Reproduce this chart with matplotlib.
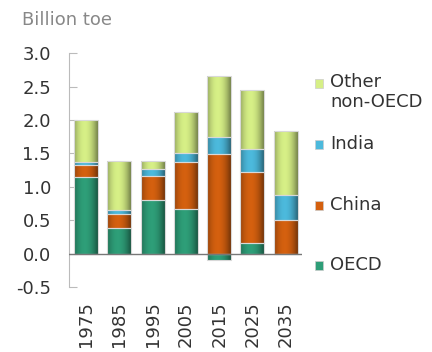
import numpy as np
import matplotlib
matplotlib.use('Agg')
import matplotlib.pyplot as plt
from matplotlib.colors import to_rgb
from matplotlib.patches import Rectangle

years = ['1975', '1985', '1995', '2005', '2015', '2025', '2035']
oecd = [1.15, 0.39, 0.80, 0.67, -0.10, 0.16, 0.00]
china = [0.18, 0.21, 0.37, 0.70, 1.49, 1.07, 0.50]
india = [0.04, 0.05, 0.10, 0.14, 0.26, 0.33, 0.375]
other = [0.63, 0.74, 0.12, 0.61, 0.91, 0.89, 0.965]

series = [('OECD', oecd, '#2e9e78'),
          ('China', china, '#d4600f'),
          ('India', india, '#4cb9dc'),
          ('Other\nnon-OECD', other, '#d6ef86')]

plt.rcParams['font.family'] = ['DejaVu Sans']

fig = plt.figure(figsize=(4.32, 3.52), dpi=100)
ax = fig.add_axes([0.160, 0.184, 0.539, 0.665])

x = np.arange(len(years))
width = 0.72

# gradient across each bar: darker at the edges
t = np.linspace(-1, 1, 64)
shade = 1.0 - 0.38 * t ** 2 - 0.08 * t


def shaded_bars(bars, color):
    base = np.array(to_rgb(color))
    img = np.clip(base[None, :] * shade[:, None], 0, 1)[None, :, :]
    for b in bars:
        if b.get_height() == 0:
            continue
        x0, y0 = b.get_x(), b.get_y()
        x1, y1 = x0 + b.get_width(), y0 + b.get_height()
        im = ax.imshow(img, extent=[x0, x1, min(y0, y1), max(y0, y1)],
                       aspect='auto', zorder=2, interpolation='bilinear')
        im.set_clip_path(b)


pos_bottom = np.zeros(len(years))
for name, vals, color in series:
    vals = np.array(vals)
    bottom = np.where(vals < 0, 0, pos_bottom)
    bars = ax.bar(x, vals, width, bottom=bottom, color=color,
                  edgecolor='#d8d8d8', linewidth=0.8, zorder=3)
    for b in bars:
        b.set_facecolor('none')
    shaded_bars(bars, color)
    pos_bottom = pos_bottom + np.where(vals > 0, vals, 0)

ax.axhline(0, color='#777777', linewidth=1.0, zorder=4)

ax.set_xlim(-0.51, 6.49)
ax.set_ylim(-0.5, 3.0)
yt = np.arange(-0.5, 3.01, 0.5)
ax.set_yticks(yt)
ax.set_yticklabels([f'{v:.1f}' for v in yt])
ax.set_xticks(x)
ax.set_xticklabels(years, rotation=90)

for s in ['top', 'right', 'bottom']:
    ax.spines[s].set_visible(False)
ax.spines['left'].set_color('#bbbbbb')
ax.tick_params(axis='y', direction='in', length=6, color='#bbbbbb',
               labelsize=13, labelcolor='#333333', pad=13)
ax.tick_params(axis='x', length=0, labelsize=13, labelcolor='#333333', pad=10)

fig.text(22 / 432, 1 - 20 / 352, 'Billion toe', fontsize=13, color='#888888',
         va='center', ha='left')

# legend drawn by hand on the right
leg_y = [265, 205, 144, 83]
for (name, vals, color), py in zip(series, leg_y):
    fy = 1 - py / 352
    fig.patches.append(Rectangle((315 / 432, fy - 4.5 / 352), 8 / 432, 9 / 352,
                                 transform=fig.transFigure, facecolor=color,
                                 edgecolor='#cccccc', linewidth=0.5))
    if '\n' in name:
        fig.text(330 / 432, fy + 10 / 352, name, fontsize=13, color='#333333',
                 va='top', ha='left', linespacing=1.15)
    else:
        fig.text(330 / 432, fy, name, fontsize=13, color='#333333',
                 va='center', ha='left')

fig.savefig('out.png', dpi=100)
